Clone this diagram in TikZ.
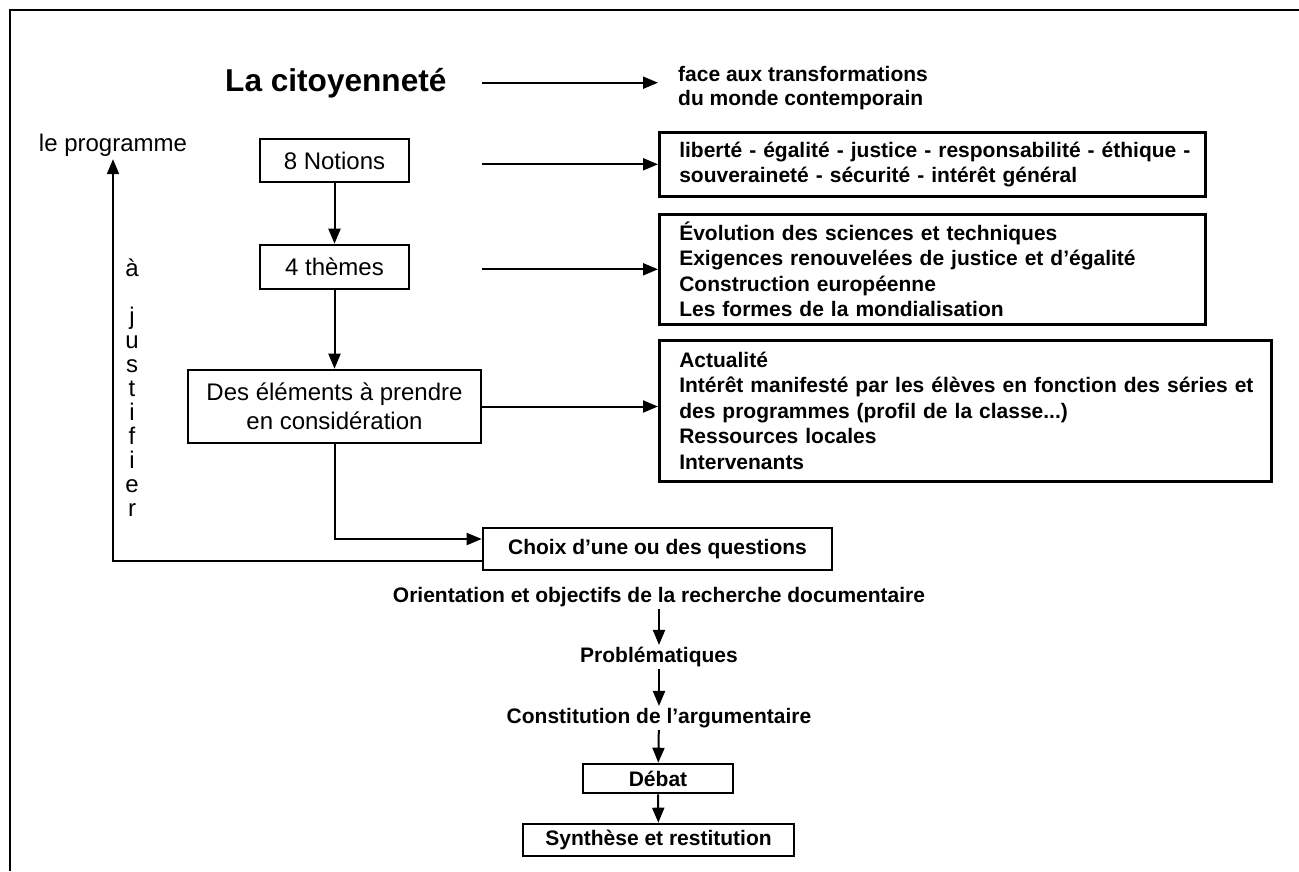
\documentclass[tikz,border=0pt]{standalone}
\usepackage{fontspec}
\setmainfont{Liberation Sans}
\usetikzlibrary{arrows.meta,positioning}

\begin{document}
\begin{tikzpicture}[x=1pt,y=-1pt,
    fleche/.style={-{Triangle[length=15pt,width=12pt]},line width=2pt},
    cadre/.style={draw,line width=2.6pt,inner sep=0pt,align=center},
    normal/.style={font=\fontsize{24}{29}\selectfont},
    gras/.style={font=\fontsize{21}{25.5}\selectfont\bfseries},
    liste/.style={cadre,gras,align=left,anchor=north west,inner xsep=20pt},
    etape/.style={gras,inner sep=2pt}]
    \useasboundingbox (0,0) rectangle (1299,871);

    % Outer frame (top and left only)
    \draw[line width=2.8pt] (1299,10) -- (10,10) -- (10,871);

    % Title and its continuation
    \node[anchor=base west,inner sep=0pt,font=\fontsize{31.6}{36}\selectfont\bfseries] (cit) at (225,91) {La citoyenneté};
    \node[gras,align=left,anchor=west,inner xsep=20pt,inner ysep=0pt,font=\fontsize{21}{23.5}\selectfont\bfseries] (face) at (658,88) {face aux transformations\\du monde contemporain};

    % Left column
    \node[normal,anchor=base,inner sep=3pt] (prog) at (113,151) {le programme};
    \node[cadre,normal,minimum width=149pt,minimum height=43pt] (notions) at (334.5,160.5) {8 Notions};
    \node[cadre,normal,minimum width=149pt,minimum height=44pt] (themes) at (334.5,267) {4 thèmes};
    \node[cadre,normal,minimum width=293pt,minimum height=73pt] (elem) at (334.5,406.5) {Des éléments à prendre\\en considération};
    \node[normal,align=center,anchor=north,inner sep=0pt,font=\fontsize{24}{24}\selectfont] (justif) at (132,259) {à\\[24pt]j\\u\\s\\t\\i\\f\\i\\e\\r};

    % Right column boxes
    \node[liste,text width=506pt,minimum height=64pt] (lib) at (658,131) {\mbox{liberté - égalité - justice - responsabilité - éthique -}\\souveraineté - sécurité - intérêt général};
    \node[liste,text width=506pt,minimum height=110pt] (sujets) at (658,213) {Évolution des sciences et techniques\\Exigences renouvelées de justice et d’égalité\\Construction européenne\\Les formes de la mondialisation};
    \node[liste,text width=572pt,minimum height=141pt] (actu) at (658,339) {Actualité\\\mbox{Intérêt manifesté par les élèves en fonction des séries et}\\des programmes (profil de la classe...)\\Ressources locales\\Intervenants};

    % Central chain
    \node[cadre,gras,minimum width=349pt,minimum height=42pt] (choix) at (657.5,549) {Choix d’une ou des questions};
    \node[etape] (orient) at (659,597) {Orientation et objectifs de la recherche documentaire};
    \node[etape] (probl) at (659,657) {Problématiques};
    \node[etape] (argu) at (659,718) {Constitution de l’argumentaire};
    \node[cadre,gras,minimum width=150pt,minimum height=29pt] (debat) at (658,778.5) {Débat};
    \node[cadre,gras,minimum width=271pt,minimum height=32pt] (synth) at (658.5,840) {Synthèse et restitution};

    % Horizontal arrows
    \draw[fleche] (cit.east -| elem.east) -- (cit.east -| face.west);
    \draw[fleche] (lib.west -| elem.east) -- (lib.west);
    \draw[fleche] (sujets.west -| elem.east) -- (sujets.west);
    \draw[fleche] (elem.east) -- (elem.east -| actu.west);

    % Vertical arrows
    \draw[fleche] (notions) -- (themes);
    \draw[fleche] (themes) -- (elem);
    \draw[fleche] (elem.south) |- ([yshift=10pt]choix.west);
    \draw[fleche] ([yshift=-12pt]choix.west) -| (prog.south);
    \draw[fleche] (orient) -- (probl);
    \draw[fleche] (probl) -- (argu);
    \draw[fleche] (argu) -- (debat);
    \draw[fleche] (debat) -- (synth);
\end{tikzpicture}
\end{document}
